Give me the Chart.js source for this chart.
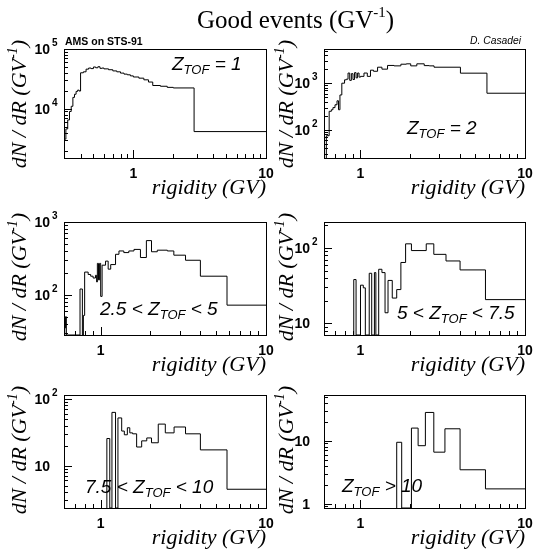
<!DOCTYPE html>
<html>
<head>
<meta charset="utf-8">
<title>Good events</title>
<script src="https://cdn.jsdelivr.net/npm/chart.js@4.4.0/dist/chart.umd.min.js"></script>
<style>
  body { margin: 0; background: #fff; }
  #page { position: relative; width: 534px; height: 559px; }
  #page canvas { position: absolute; left: 0; top: 0; }
</style>
</head>
<body>
<div id="page">
  <canvas id="z1" width="534" height="559"></canvas>
  <canvas id="z2" width="534" height="559"></canvas>
  <canvas id="z3" width="534" height="559"></canvas>
  <canvas id="z4" width="534" height="559"></canvas>
  <canvas id="z5" width="534" height="559"></canvas>
  <canvas id="z6" width="534" height="559"></canvas>
</div>
<script>
// rigidity bin edges (GV) and dN/dR contents for each charge class

// Z_TOF = 1
var rig1 = [0.30,0.31,0.32,0.33,0.34,0.35,0.36,0.37,0.38,0.39,0.40,0.42,0.44,0.46,0.48,0.50,0.52,0.54,0.56,0.58,0.60,
            0.65,0.70,0.75,0.80,0.85,0.90,0.95,1.00,1.10,1.20,1.30,1.40,1.60,1.80,2.00,2.87,10];
var dnz1 = [3100,4600,6500,9000,11000,15500,17500,19500,20500,19800,40000,41500,46000,48000,47000,50000,48500,50500,47500,48000,
            46500,45000,43000,41500,39500,38000,37000,35500,34000,32500,30500,28000,24500,23800,22800,22300,4150];

// Z_TOF = 2
var rig2 = [0.62,0.645,0.665,0.68,0.70,0.72,0.735,0.75,0.77,0.80,0.82,0.84,0.86,0.88,0.90,0.92,0.94,0.96,0.98,1.00,
            1.05,1.10,1.15,1.20,1.27,1.35,1.46,1.60,1.76,1.90,2.02,2.20,2.44,2.62,2.80,4.05,5.87,10];
var dnz2 = [75,250,270,300,345,420,270,560,1000,1180,1220,1650,1150,1600,1200,1680,1300,1650,1350,1400,
            1650,1400,1900,1800,2200,2000,2400,2350,2550,2600,2350,2600,2380,2350,2200,1640,610];

// 2.5 < Z_TOF < 5
var rig3 = [0.606,0.613,0.62,0.75,0.775,0.786,0.80,0.84,0.87,0.90,0.93,0.945,0.955,0.97,0.985,1.00,1.02,1.07,1.11,1.15,
            1.23,1.29,1.38,1.48,1.59,1.74,1.89,2.03,2.20,2.53,2.77,3.26,4.01,5.81,10];
var dnz3 = [35,50,0,120,0,52,205,190,180,170,185,150,270,160,270,95,255,290,225,260,
            360,400,380,400,420,325,555,390,410,400,350,298,180,72];

// 5 < Z_TOF < 7.5
var rig4 = [0.91,0.94,1.00,1.04,1.07,1.13,1.17,1.215,1.24,1.29,1.35,1.41,1.47,1.56,1.66,1.76,1.88,2.04,2.51,2.79,3.31,4.03,5.75,10];
var dnz4 = [38,0,32,29.5,0,46,0,47,0,52,47,13.8,37,21.6,28,64,113,92,113,82,67,51,20.6];

// 7.5 < Z_TOF < 10
var rig5 = [1.09,1.135,1.17,1.23,1.272,1.34,1.39,1.45,1.50,1.56,1.65,1.77,1.90,2.03,2.23,2.46,2.78,3.26,4.01,5.81,10];
var dnz5 = [25.5,0,63,0,52,33,29,37,31,30,19,23.5,26,22,42,31,38,30,17.2,4.4];

// Z_TOF > 10
var rig6 = [1.66,1.78,2.04,2.24,2.48,2.79,3.26,4.03,5.75,10];
var dnz6 = [9.4,0,15.8,8.3,28,6.55,15.4,3.44,1.71];

// labelled decades on each axis
var xTicks = [1, 10];
var yTicks1 = [1e4, 1e5];
var yTicks2 = [1e2, 1e3];
var yTicks3 = [1e2, 1e3];
var yTicks4 = [10, 1e2];
var yTicks5 = [10, 1e2];
var yTicks6 = [1, 10];

var W = 534, H = 559;
var BOLD = '"Liberation Sans", Arial, Helvetica, sans-serif';
var SERIF = '"Liberation Serif", "Times New Roman", Times, serif';

// draw a run of [text, font, dy] pieces, aligned left or right at x
function drawRuns(ctx, runs, x, y, align) {
  var total = 0, i;
  for (i = 0; i < runs.length; i++) {
    ctx.font = runs[i][1];
    total += ctx.measureText(runs[i][0]).width;
  }
  var cx = align === 'right' ? x - total : (align === 'center' ? x - total / 2 : x);
  ctx.textAlign = 'left';
  ctx.textBaseline = 'alphabetic';
  for (i = 0; i < runs.length; i++) {
    ctx.font = runs[i][1];
    ctx.fillText(runs[i][0], cx, y + (runs[i][2] || 0));
    cx += ctx.measureText(runs[i][0]).width;
  }
}

function histPoints(edges, counts, floor) {
  var pts = [{x: edges[0], y: floor}];
  for (var i = 0; i < counts.length; i++) {
    pts.push({x: edges[i], y: counts[i] > 0 ? counts[i] : floor});
  }
  pts.push({x: edges[edges.length - 1], y: counts[counts.length - 1] > 0 ? counts[counts.length - 1] : floor});
  return pts;
}

// frame, log ticks and labels in the ROOT pad style
var rootPad = {
  id: 'rootPad',
  afterDraw: function(chart, args, o) {
    var ctx = chart.ctx, a = chart.chartArea;
    var xs = chart.scales.x, ys = chart.scales.y;
    var L = Math.round(a.left), R = Math.round(a.right), T = Math.round(a.top), B = Math.round(a.bottom);
    ctx.save();
    ctx.strokeStyle = '#000';
    ctx.fillStyle = '#000';
    ctx.lineWidth = 1;
    ctx.strokeRect(L + 0.5, T + 0.5, R - L, B - T);

    ctx.beginPath();
    var p, m, v, px, len;
    for (p = Math.floor(Math.log10(xs.min)); p <= Math.ceil(Math.log10(xs.max)); p++) {
      for (m = 1; m <= 9; m++) {
        v = m * Math.pow(10, p);
        if (v < xs.min * 0.999 || v > xs.max * 1.001) continue;
        px = Math.round(xs.getPixelForValue(v)) + 0.5;
        len = m === 1 ? 8 : 4;
        ctx.moveTo(px, B);
        ctx.lineTo(px, B - len);
      }
    }
    for (p = Math.floor(Math.log10(ys.min)); p <= Math.ceil(Math.log10(ys.max)); p++) {
      for (m = 1; m <= 9; m++) {
        v = m * Math.pow(10, p);
        if (v < ys.min * 0.999 || v > ys.max * 1.001) continue;
        px = Math.round(ys.getPixelForValue(v)) + 0.5;
        len = m === 1 ? 8 : 4;
        ctx.moveTo(L, px);
        ctx.lineTo(L + len, px);
      }
    }
    ctx.stroke();

    // decade labels
    o.xLabels.forEach(function(val) {
      drawRuns(ctx, [[String(val), 'bold 14px ' + BOLD, 0]], xs.getPixelForValue(val), B + 20, 'center');
    });
    o.yLabels.forEach(function(val) {
      var e = Math.round(Math.log10(val));
      var y = ys.getPixelForValue(val);
      var base = e === 0 ? '1' : '10';
      drawRuns(ctx, [[base, 'bold 14px ' + BOLD, 0]], L - 14, y + 5, 'right');
      if (e > 1) drawRuns(ctx, [[String(e), 'bold 10px ' + BOLD, 0]], L - 12, y - 3, 'left');
    });

    // axis titles
    drawRuns(ctx, [['rigidity (GV)', 'italic 22px ' + SERIF, 0]], R, B + 36, 'right');
    ctx.save();
    ctx.translate(o.titleX, T - 9);
    ctx.rotate(-Math.PI / 2);
    drawRuns(ctx, [
      ['dN / dR (GV', 'italic 22px ' + SERIF, 0],
      ['-1', 'italic 14px ' + SERIF, -9],
      [')', 'italic 22px ' + SERIF, 0]
    ], 0, 0, 'right');
    ctx.restore();

    // charge selection tag
    drawRuns(ctx, [
      [o.tag[0], 'italic 19px ' + BOLD, 0],
      ['TOF', 'italic 13px ' + BOLD, 4],
      [o.tag[1], 'italic 19px ' + BOLD, 0]
    ], o.tagAt[0], o.tagAt[1], 'left');

    if (o.header) {
      drawRuns(ctx, [
        ['Good events (GV', '25px ' + SERIF, 0],
        ['-1', '15px ' + SERIF, -11],
        [')', '25px ' + SERIF, 0]
      ], 197, 28, 'left');
      drawRuns(ctx, [['AMS on STS-91', 'bold 10.5px ' + BOLD, 0]], 65, 45, 'left');
    }
    if (o.credit) {
      drawRuns(ctx, [['D. Casadei', 'italic 10.3px ' + BOLD, 0]], 521, 44, 'right');
    }
    ctx.restore();
  }
};

var panels = [
  {id: 'z1', edges: rig1, counts: dnz1, xr: [0.3, 10],  yr: [1500, 1e5], yLabels: yTicks1, box: [64, 49, 266, 158],
   titleX: 26, tag: ['Z', ' = 1'], tagAt: [172, 70], header: true},
  {id: 'z2', edges: rig2, counts: dnz2, xr: [0.6, 10], yr: [25, 5400], yLabels: yTicks2, box: [324, 49, 525, 158],
   titleX: 293, tag: ['Z', ' = 2'], tagAt: [407, 134], credit: true},
  {id: 'z3', edges: rig3, counts: dnz3, xr: [0.6, 10], yr: [28, 1000], yLabels: yTicks3, box: [64, 222, 266, 335],
   titleX: 26, tag: ['2.5 < Z', ' < 5'], tagAt: [100, 315]},
  {id: 'z4', edges: rig4, counts: dnz4, xr: [0.6, 10], yr: [7, 220], yLabels: yTicks4, box: [324, 222, 525, 335],
   titleX: 293, tag: ['5 < Z', ' < 7.5'], tagAt: [397, 319]},
  {id: 'z5', edges: rig5, counts: dnz5, xr: [0.6, 10], yr: [2.3, 115], yLabels: yTicks5, box: [64, 395, 266, 508],
   titleX: 26, tag: ['7.5 < Z', ' < 10'], tagAt: [85, 493]},
  {id: 'z6', edges: rig6, counts: dnz6, xr: [0.6, 10], yr: [0.85, 53], yLabels: yTicks6, box: [324, 395, 525, 508],
   titleX: 293, tag: ['Z', ' > 10'], tagAt: [342, 492]}
];

panels.forEach(function(p) {
  new Chart(document.getElementById(p.id), {
    type: 'line',
    data: {
      datasets: [{
        data: histPoints(p.edges, p.counts, p.yr[0]),
        stepped: true,
        borderColor: '#000',
        borderWidth: 1,
        pointRadius: 0,
        fill: false
      }]
    },
    options: {
      responsive: false,
      animation: false,
      events: [],
      layout: { padding: { left: p.box[0], top: p.box[1], right: W - p.box[2], bottom: H - p.box[3] } },
      scales: {
        x: { type: 'logarithmic', min: p.xr[0], max: p.xr[1], display: false },
        y: { type: 'logarithmic', min: p.yr[0], max: p.yr[1], display: false }
      },
      plugins: {
        legend: { display: false },
        tooltip: { enabled: false },
        rootPad: {
          xLabels: xTicks, yLabels: p.yLabels, titleX: p.titleX,
          tag: p.tag, tagAt: p.tagAt, header: !!p.header, credit: !!p.credit
        }
      }
    },
    plugins: [rootPad]
  });
});
</script>
</body>
</html>
